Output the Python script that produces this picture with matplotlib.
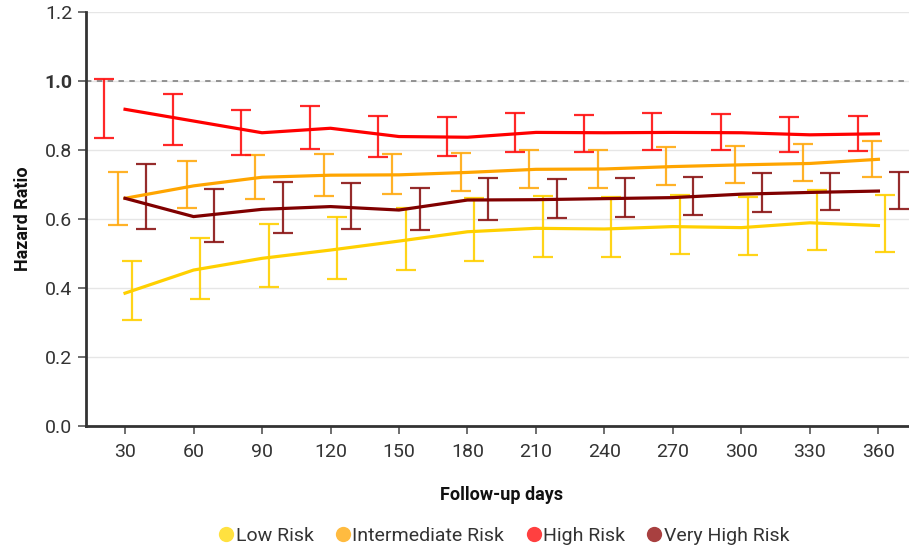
import matplotlib
matplotlib.use('Agg')
import matplotlib.pyplot as plt
from matplotlib.lines import Line2D
import numpy as np

plt.rcParams['font.family'] = ['Roboto', 'DejaVu Sans']

days = [30, 60, 90, 120, 150, 180, 210, 240, 270, 300, 330, 360]
tick_labels = [str(d) for d in days]

series_names = ['Low Risk', 'Intermediate Risk', 'High Risk', 'Very High Risk']

# line values
low_hr = [0.385, 0.452, 0.486, 0.510, 0.536, 0.563, 0.573, 0.571, 0.578, 0.575, 0.589, 0.581]
inter_hr = [0.660, 0.696, 0.721, 0.727, 0.728, 0.735, 0.744, 0.745, 0.752, 0.757, 0.761, 0.773]
high_hr = [0.918, 0.884, 0.850, 0.863, 0.839, 0.837, 0.851, 0.850, 0.851, 0.850, 0.844, 0.847]
vhigh_hr = [0.660, 0.607, 0.628, 0.636, 0.626, 0.655, 0.656, 0.659, 0.662, 0.672, 0.677, 0.681]

# confidence intervals (lower, upper)
low_lo = [0.306, 0.367, 0.404, 0.427, 0.451, 0.479, 0.491, 0.491, 0.498, 0.496, 0.510, 0.503]
low_up = [0.478, 0.546, 0.586, 0.607, 0.631, 0.660, 0.668, 0.665, 0.670, 0.665, 0.684, 0.670]
inter_lo = [0.583, 0.631, 0.658, 0.668, 0.672, 0.681, 0.691, 0.691, 0.700, 0.705, 0.711, 0.721]
inter_up = [0.735, 0.768, 0.786, 0.789, 0.787, 0.791, 0.800, 0.799, 0.808, 0.812, 0.817, 0.827]
high_lo = [0.836, 0.814, 0.786, 0.802, 0.781, 0.783, 0.795, 0.795, 0.800, 0.800, 0.794, 0.798]
high_up = [1.007, 0.962, 0.917, 0.927, 0.899, 0.895, 0.906, 0.901, 0.906, 0.904, 0.897, 0.899]
vhigh_lo = [0.572, 0.534, 0.560, 0.571, 0.567, 0.597, 0.602, 0.606, 0.611, 0.621, 0.626, 0.630]
vhigh_up = [0.759, 0.688, 0.706, 0.704, 0.691, 0.718, 0.715, 0.718, 0.721, 0.732, 0.734, 0.735]

line_colors = ['#FFD000', '#FFA500', '#FF0000', '#800000']
bar_colors = ['#FFD000', '#FFAA10', '#FF1010', '#8B1515']
bar_offsets = [3, -3, -9, 9]  # days, horizontal dodge of the CI bars

fig = plt.figure(figsize=(9.09, 5.47), dpi=100)
ax = fig.add_axes([86 / 909, 121 / 547, 823 / 909, 414 / 547])

hr = [low_hr, inter_hr, high_hr, vhigh_hr]
lo = [low_lo, inter_lo, high_lo, vhigh_lo]
up = [low_up, inter_up, high_up, vhigh_up]
x = np.array(days, dtype=float)

ax.axhline(1.0, color='#8a8a8a', linestyle=(0, (3, 3)), linewidth=1.3, zorder=1)

for i in range(4):
    v = np.array(hr[i])
    err = [v - np.array(lo[i]), np.array(up[i]) - v]
    ax.errorbar(x + bar_offsets[i], v, yerr=err, fmt='none', ecolor=bar_colors[i],
                elinewidth=1.6, capsize=7.5, capthick=1.6, alpha=0.9, zorder=2)

for i in [0, 1, 2, 3]:
    ax.plot(x, hr[i], '-', color=line_colors[i], linewidth=2.3, zorder=3 + i * 0.1)

ax.set_xlim(12.9, 373.4)
ax.set_ylim(0, 1.2)
ax.set_xticks(days)
ax.set_xticklabels(tick_labels)
ax.set_yticks([0.0, 0.2, 0.4, 0.6, 0.8, 1.0, 1.2])
ax.set_yticklabels(['0.0', '0.2', '0.4', '0.6', '0.8', '1.0', '1.2'])
ax.get_yticklabels()[5].set_fontweight('bold')
ax.get_yticklabels()[5].set_color('#111111')

ax.grid(axis='y', color='#e6e6e6', linewidth=1.0, zorder=0)
ax.set_axisbelow(True)
for s in ['top', 'right']:
    ax.spines[s].set_visible(False)
for s in ['left', 'bottom']:
    ax.spines[s].set_color('#333333')
    ax.spines[s].set_linewidth(2.0)
ax.tick_params(axis='both', colors='#555555', labelcolor='#333333', labelsize=14,
               length=6, width=1.2)
ax.tick_params(axis='x', pad=6)
ax.tick_params(axis='y', pad=4)

ax.set_ylabel('Hazard Ratio', fontsize=13, fontweight='bold', color='#111111')
ax.yaxis.set_label_coords(-0.066, 0.5)
ax.set_xlabel('Follow-up days', fontsize=13, fontweight='bold', color='#111111')
ax.xaxis.set_label_coords(0.505, -0.145)

handles = [Line2D([], [], marker='o', linestyle='none', markersize=11,
                  markerfacecolor=c, markeredgecolor='none', alpha=0.75)
           for c in ['#FFD700', '#FFA500', '#FF0000', '#8B0000']]
fig.legend(handles, series_names, loc='center', bbox_to_anchor=(502 / 909, 0.021),
           ncol=4, frameon=False, fontsize=14, handletextpad=-0.1, columnspacing=0.9,
           handlelength=1.2, labelcolor='#333333')

fig.savefig('out.png', dpi=100, facecolor='white')
